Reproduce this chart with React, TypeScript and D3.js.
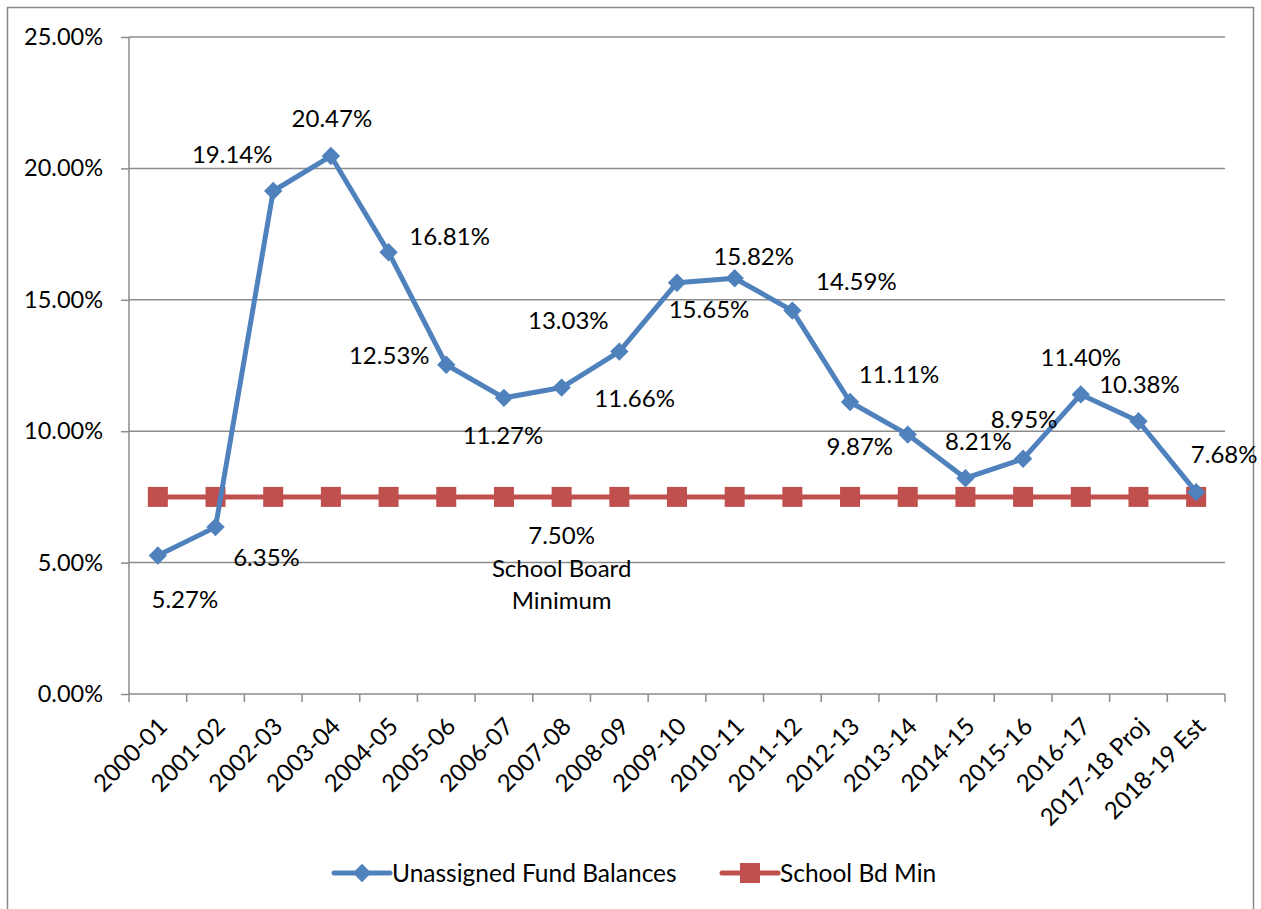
import React, { useEffect, useRef } from 'react';
import * as d3 from 'd3';

// Fiscal years on the x axis
const years = [
  '2000-01', '2001-02', '2002-03', '2003-04', '2004-05', '2005-06', '2006-07',
  '2007-08', '2008-09', '2009-10', '2010-11', '2011-12', '2012-13', '2013-14',
  '2014-15', '2015-16', '2016-17', '2017-18 Proj', '2018-19 Est',
];

// Unassigned fund balance, percent
const fundBalances = [
  5.27, 6.35, 19.14, 20.47, 16.81, 12.53, 11.27, 11.66, 13.03, 15.65,
  15.82, 14.59, 11.11, 9.87, 8.21, 8.95, 11.40, 10.38, 7.68,
];

// School board minimum, percent
const boardMinimum = years.map(() => 7.5);

const yTicks = [0, 5, 10, 15, 20, 25];

// where each data label sits relative to its point (Excel's placement)
const labelOffsets = [
  [27, 44], [51, 30], [-41, -36], [1, -37], [61, -16], [-57, -9], [-1, 38],
  [73, 11], [-51, -31], [32, 27], [19, -22], [64, -29], [49, -27], [-48, 12],
  [13, -37], [1, -39], [0, -37], [1, -37], [28, -38],
];

const App = () => {
  const svgRef = useRef<SVGSVGElement>(null);

  useEffect(() => {
    const width = 1261;
    const height = 909;
    const margin = { top: 37, right: 36, bottom: 215, left: 129 };
    const font = 'Lato, Calibri, Carlito, sans-serif';

    const svg = d3.select(svgRef.current);
    svg.selectAll('*').remove();
    svg.attr('width', width).attr('height', height);

    svg.append('rect')
      .attr('width', width).attr('height', height).attr('fill', '#fff');

    // chart border
    svg.append('rect')
      .attr('x', 7.5).attr('y', 7.5)
      .attr('width', 1246).attr('height', 930)
      .attr('fill', 'none')
      .attr('stroke', '#888')
      .attr('stroke-width', 1.5);

    const x = d3.scaleBand()
      .domain(years)
      .range([margin.left, width - margin.right]);

    const y = d3.scaleLinear()
      .domain([0, 25])
      .range([height - margin.bottom, margin.top]);

    const cx = (d: string) => (x(d) as number) + x.bandwidth() / 2;

    // horizontal gridlines
    svg.append('g')
      .selectAll('line')
      .data(yTicks.filter(t => t > 0))
      .enter()
      .append('line')
      .attr('x1', margin.left)
      .attr('x2', width - margin.right)
      .attr('y1', d => y(d))
      .attr('y2', d => y(d))
      .attr('stroke', '#8c8c8c')
      .attr('stroke-width', 1.5);

    // y axis
    const yAxis = svg.append('g')
      .attr('transform', `translate(${margin.left},0)`)
      .call(d3.axisLeft(y).tickValues(yTicks).tickSize(8).tickPadding(18)
        .tickFormat(d => `${(+d).toFixed(2)}%`));
    yAxis.selectAll('line, path').attr('stroke', '#8c8c8c').attr('stroke-width', 1.5);
    yAxis.select('path').attr('d', `M0,${y(0)}V${y(25)}`);
    yAxis.selectAll('text')
      .style('font-family', font)
      .style('font-size', '23.5px')
      .attr('fill', '#000');

    // x axis, ticks between categories
    const xAxisG = svg.append('g')
      .attr('transform', `translate(0,${y(0)})`);
    xAxisG.append('line')
      .attr('x1', margin.left).attr('x2', width - margin.right)
      .attr('stroke', '#8c8c8c').attr('stroke-width', 1.5);
    xAxisG.selectAll('.tick')
      .data([...years.map(d => x(d) as number), width - margin.right])
      .enter()
      .append('line')
      .attr('x1', d => d).attr('x2', d => d)
      .attr('y1', 0).attr('y2', 8)
      .attr('stroke', '#8c8c8c').attr('stroke-width', 1.5);
    xAxisG.selectAll('text')
      .data(years)
      .enter()
      .append('text')
      .attr('transform', d => `translate(${cx(d) + 5},${28}) rotate(-45)`)
      .attr('text-anchor', 'end')
      .attr('dy', '0.35em')
      .style('font-family', font)
      .style('font-size', '24px')
      .text(d => d);

    // school board minimum line
    const line = d3.line<number>()
      .x((_, i) => cx(years[i]))
      .y(d => y(d));

    svg.append('path')
      .datum(boardMinimum)
      .attr('d', line)
      .attr('fill', 'none')
      .attr('stroke', '#C0504D')
      .attr('stroke-width', 5);

    svg.selectAll('.sq')
      .data(boardMinimum)
      .enter()
      .append('rect')
      .attr('x', (_, i) => cx(years[i]) - 10)
      .attr('y', d => y(d) - 10)
      .attr('width', 20)
      .attr('height', 20)
      .attr('fill', '#C0504D');

    // fund balance line
    svg.append('path')
      .datum(fundBalances)
      .attr('d', line)
      .attr('fill', 'none')
      .attr('stroke', '#4F81BD')
      .attr('stroke-width', 5)
      .attr('stroke-linejoin', 'round');

    const diamond = d3.symbol().type(d3.symbolDiamond2).size(215);
    svg.selectAll('.dm')
      .data(fundBalances)
      .enter()
      .append('path')
      .attr('d', diamond)
      .attr('transform', (d, i) => `translate(${cx(years[i])},${y(d)})`)
      .attr('fill', '#4F81BD');

    // data labels
    svg.selectAll('.lbl')
      .data(fundBalances)
      .enter()
      .append('text')
      .attr('x', (_, i) => cx(years[i]) + labelOffsets[i][0])
      .attr('y', (d, i) => y(d) + labelOffsets[i][1])
      .attr('text-anchor', 'middle')
      .attr('dy', '0.35em')
      .style('font-family', font)
      .style('font-size', '24px')
      .text(d => `${d.toFixed(2)}%`);

    // school board minimum label
    const minLabel = svg.append('text')
      .attr('x', cx(years[7]))
      .attr('y', y(boardMinimum[7]) + 39)
      .attr('text-anchor', 'middle')
      .style('font-family', font)
      .style('font-size', '24px');
    [`${boardMinimum[7].toFixed(2)}%`, 'School Board', 'Minimum'].forEach((t, i) => {
      minLabel.append('tspan')
        .attr('x', cx(years[7]))
        .attr('dy', i === 0 ? '0.35em' : '1.35em')
        .text(t);
    });

    // legend
    const legend = [
      { name: 'Unassigned Fund Balances', color: '#4F81BD', x: 334, marker: 'diamond' },
      { name: 'School Bd Min', color: '#C0504D', x: 722, marker: 'square' },
    ];
    const lg = svg.selectAll('.legend')
      .data(legend)
      .enter()
      .append('g')
      .attr('transform', d => `translate(${d.x},873)`);
    lg.append('line')
      .attr('x1', 0).attr('x2', 56)
      .attr('stroke', d => d.color)
      .attr('stroke-width', 5)
      .attr('stroke-linecap', 'round');
    lg.append('path')
      .attr('d', d => d.marker === 'diamond'
        ? diamond()
        : 'M-10,-10H10V10H-10Z')
      .attr('transform', 'translate(28,0)')
      .attr('fill', d => d.color);
    lg.append('text')
      .attr('x', 58)
      .attr('dy', '0.35em')
      .style('font-family', font)
      .style('font-size', '24.5px')
      .text(d => d.name);
  }, []);

  return (
    <svg ref={svgRef} style={{ position: 'absolute', left: 0, top: 0 }}></svg>
  );
};

export default App;
